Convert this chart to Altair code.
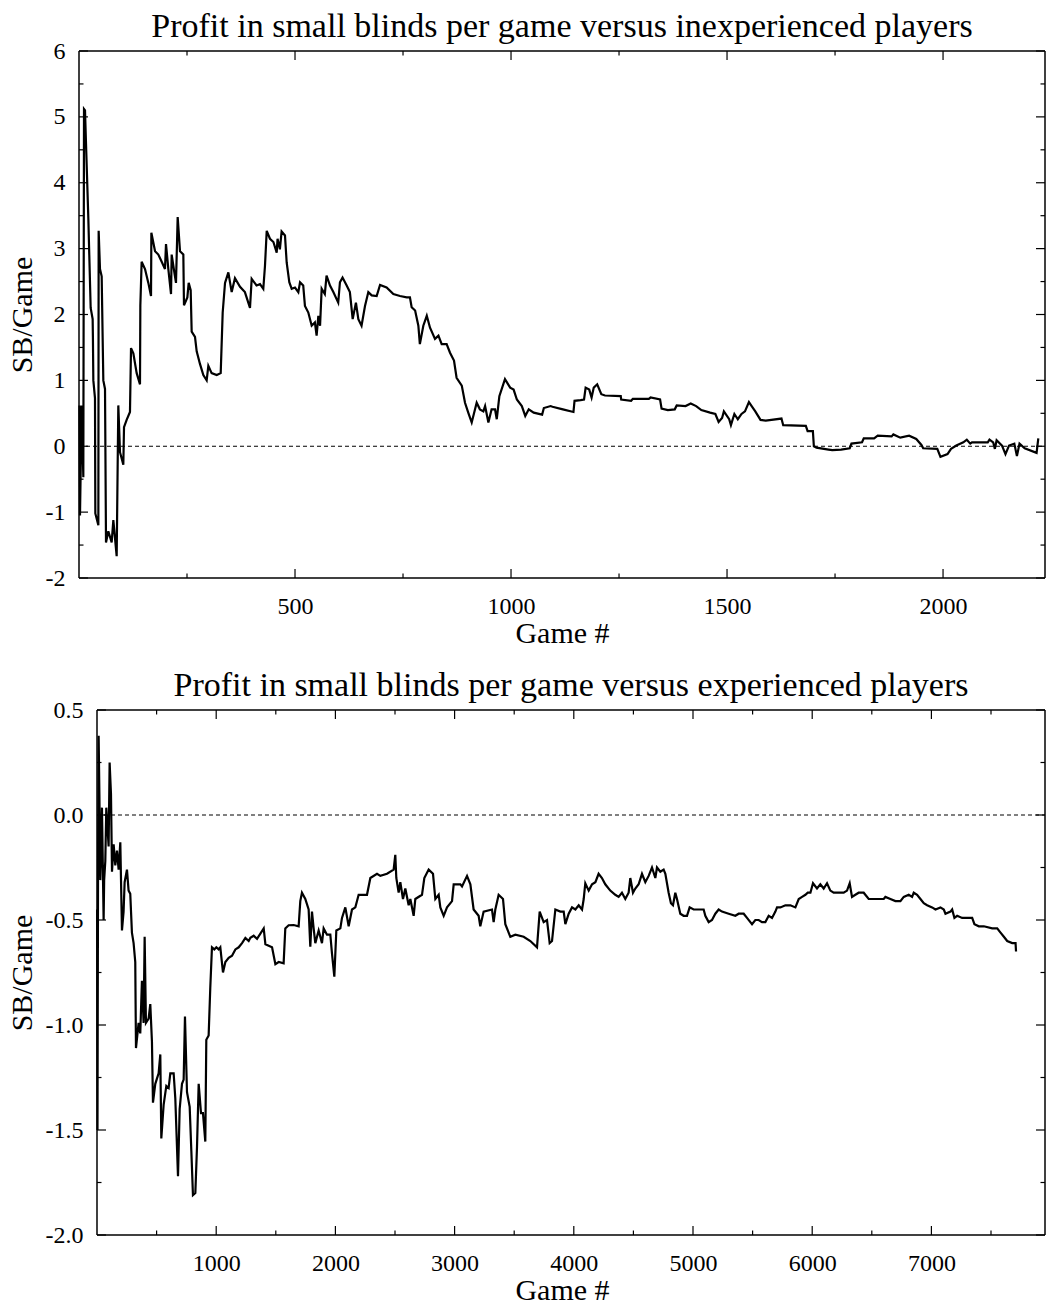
import altair as alt
import pandas as pd

# ---- Series: running profit (small blinds per game) vs. game number ----
inexp_game = [1, 2.3, 6.2, 10, 11.6, 13.9, 16.2, 21.6, 27, 31.6, 32.2, 33.2, 37, 37.8, 44.8, 45.5,
              48.6, 52.5, 56.3, 60.2, 62.5, 67.9, 75.6, 79.5, 87.2, 91, 94.9, 102.6, 104.2, 110.3,
              118, 120.4, 125.8, 133.5, 141.2, 142, 145, 152.8, 160.5, 166.7, 167.5, 176, 183.6,
              191.4, 199, 201.4, 206.8, 213, 214.5, 220.7, 224.5, 228.4, 233.8, 241.5, 243, 250.8,
              253.9, 258.5, 260.8, 268.5, 272.4, 280, 287.8, 295.5, 299.4, 307, 318.7, 328, 332.6,
              338, 345.7, 353.4, 361, 372.7, 384, 395.8, 399.7, 411, 419, 426.6, 430.5, 434.5, 442,
              450, 457.6, 459.6, 465, 469, 476.8, 480.7, 486.8, 492.3, 500, 507.7, 511.6, 519, 523,
              530.8, 538.6, 546, 550, 554, 558, 561.7, 569, 573, 581, 588.7, 600, 604, 610, 619.6,
              627, 633.5, 641, 646.6, 654, 662, 669.7, 677.5, 689, 696.8, 712, 727.6, 743, 758.5,
              766, 770, 778, 785.5, 789, 797, 805, 812.5, 824, 832, 839.5, 851, 858.8, 868, 874,
              886, 893.5, 901, 909, 920.5, 928, 936, 940, 947.6, 955, 963, 967, 973, 986, 998,
              1006, 1013.5, 1025, 1033, 1041, 1052.5, 1072, 1076, 1091.6, 1096, 1120, 1144.5, 1147,
              1161, 1169, 1172.7, 1181, 1186.5, 1191.5, 1199.5, 1209, 1217.5, 1254, 1255, 1278,
              1282, 1319, 1323, 1345, 1348.5, 1363, 1379, 1383.5, 1404, 1416, 1428.5, 1440.5,
              1460.8, 1473, 1480.5, 1488.5, 1492.7, 1505, 1509, 1517, 1525, 1533.5, 1541.5, 1550.7,
              1557, 1565.4, 1577.5, 1589.6, 1626, 1630, 1682.4, 1686.5, 1698.7, 1701, 1707, 1735,
              1743.6, 1764, 1784, 1788, 1812.5, 1816.5, 1840.5, 1848.7, 1881, 1885, 1901, 1921.5,
              1938, 1950, 1954, 1986.7, 1994, 2010.4, 2018.5, 2030.7, 2047, 2055, 2063, 2067,
              2103.5, 2107.5, 2116, 2120, 2124, 2136.5, 2144.5, 2152.7, 2165, 2171, 2177, 2189,
              2216.5, 2220.5]
inexp_sb = [0.62, -1.05, 0.62, -0.47, 5.12, 5.10, 4.6, 3.46, 2.10, 1.93, 1.66, 1.0, 0.73, -1.02, -1.2,
            3.27, 2.69, 2.58, 1.0, 0.87, -1.46, -1.29, -1.46, -1.12, -1.67, 0.62, -0.09, -0.28, 0.29,
            0.40, 0.52, 1.49, 1.41, 1.11, 0.94, 2.14, 2.80, 2.69, 2.48, 2.28, 3.24, 2.96, 2.91, 2.80,
            2.69, 3.07, 2.69, 2.31, 2.91, 2.64, 2.48, 3.48, 2.96, 2.91, 2.14, 2.26, 2.48, 2.37, 1.74,
            1.66, 1.44, 1.25, 1.08, 1.00, 1.22, 1.11, 1.08, 1.11, 2.03, 2.48, 2.64, 2.34, 2.55, 2.42,
            2.34, 2.10, 2.54, 2.44, 2.46, 2.39, 2.74, 3.27, 3.15, 3.10, 2.94, 3.15, 2.99, 3.26, 3.20,
            2.79, 2.49, 2.39, 2.41, 2.34, 2.49, 2.44, 2.13, 2.03, 1.83, 1.88, 1.68, 1.98, 1.83, 2.39,
            2.31, 2.59, 2.44, 2.34, 2.18, 2.49, 2.56, 2.44, 2.34, 1.93, 2.18, 1.93, 1.83, 2.13, 2.34,
            2.29, 2.28, 2.45, 2.41, 2.31, 2.28, 2.26, 2.26, 2.11, 2.06, 1.83, 1.55, 1.83, 1.98, 1.80,
            1.63, 1.68, 1.55, 1.55, 1.42, 1.30, 1.04, 0.92, 0.66, 0.51, 0.36, 0.66, 0.56, 0.53, 0.61,
            0.36, 0.56, 0.56, 0.41, 0.76, 1.02, 0.89, 0.86, 0.71, 0.61, 0.46, 0.56, 0.51, 0.48, 0.58,
            0.61, 0.60, 0.56, 0.52, 0.69, 0.70, 0.71, 0.89, 0.86, 0.74, 0.89, 0.94, 0.79, 0.77, 0.76,
            0.71, 0.69, 0.72, 0.72, 0.74, 0.71, 0.57, 0.55, 0.56, 0.62, 0.61, 0.65, 0.61, 0.55, 0.51,
            0.49, 0.37, 0.43, 0.53, 0.41, 0.32, 0.49, 0.41, 0.49, 0.53, 0.67, 0.61, 0.53, 0.40, 0.39,
            0.42, 0.32, 0.31, 0.23, 0.23, 0.0, -0.02, -0.05, -0.06, -0.05, -0.03, 0.04, 0.06, 0.12,
            0.12, 0.16, 0.15, 0.18, 0.13, 0.16, 0.11, 0.02, -0.03, -0.04, -0.16, -0.12, -0.04, 0.01,
            0.06, 0.10, 0.04, 0.06, 0.06, 0.10, 0.06, -0.04, 0.09, 0.01, -0.12, 0.01, 0.04, -0.15,
            0.04, -0.03, -0.10, 0.12]

exp_game = [1, 4, 9, 13.7, 20, 27.7, 41.6, 55.6, 60, 69.6, 78, 83.6, 97.5, 105.9, 117.3, 125.8,
            139.6, 153.5, 167.5, 181.5, 195.5, 209.4, 223, 231.8, 251.4, 265, 279, 293, 307, 321,
            327, 349, 363, 377, 391, 399.7, 410.8, 433, 447, 461, 469.5, 489, 517, 531, 539.5, 559,
            581.6, 601, 615, 643, 657, 679.5, 693.5, 713, 727, 738, 755, 777.5, 791.5, 805, 825,
            839, 853, 872.5, 889, 908.6, 917, 936.6, 950.5, 964.5, 984, 1001, 1020.6, 1034.5, 1057,
            1076.8, 1104.8, 1132.8, 1160.8, 1188.7, 1216.7, 1244.7, 1272.7, 1286.7, 1314.7, 1342.6,
            1370.6, 1398.6, 1412.6, 1468.5, 1496.5, 1524.5, 1565.6, 1579.7, 1607.7, 1649.7, 1691.6,
            1705.5, 1719.5, 1747.5, 1775.5, 1789.5, 1803.5, 1817.5, 1831.5, 1859.5, 1887.4, 1901.4,
            1929.4, 1957.4, 1971.4, 1991, 2007.8, 2041.4, 2055.3, 2083.3, 2111.3, 2139.3, 2167.3,
            2195, 2265, 2293.2, 2349, 2377, 2433, 2488.5, 2502.5, 2511, 2530.6, 2544.6, 2567,
            2586.6, 2614.6, 2628.6, 2656.5, 2670.5, 2726.5, 2746, 2782.4, 2818.8, 2838.4, 2866.4,
            2880.4, 2908.4, 2936.4, 2978.4, 2992.3, 3048.3, 3062.3, 3104.3, 3132.3, 3159.6, 3201.6,
            3215.6, 3243.6, 3313.6, 3327.6, 3341.6, 3369.5, 3406, 3425.5, 3467.4, 3509.4, 3579.3,
            3635.3, 3691.3, 3713.7, 3747.2, 3775.2, 3797.6, 3817.2, 3845.2, 3887.2, 3915.2, 3929.2,
            3957.1, 3985.1, 4013.1, 4041.1, 4069.1, 4083.1, 4096.5, 4125, 4153, 4181, 4208.2, 4236,
            4264, 4306, 4348, 4376, 4404, 4432, 4460, 4474, 4496.5, 4516, 4544, 4572, 4600, 4628,
            4656, 4684, 4697.8, 4726, 4753.7, 4768, 4795.6, 4815, 4832, 4851.6, 4865.6, 4893.5,
            4921.5, 4949.5, 4972, 5005.5, 5061.4, 5089.4, 5103.4, 5131.4, 5159.4, 5187.3, 5215.3,
            5243.3, 5299.3, 5355.2, 5383.2, 5425.2, 5453.1, 5481.1, 5495.1, 5523, 5551, 5579, 5607,
            5635, 5663, 5691, 5705, 5733, 5775, 5817, 5859, 5887, 5915, 5943, 5962.7, 5985, 6006.7,
            6040.3, 6068.3, 6096.3, 6124.3, 6152.3, 6180.2, 6222.2, 6264.2, 6292.2, 6314.5, 6334,
            6362, 6390, 6432, 6474, 6516, 6600, 6614, 6656, 6698, 6740, 6768, 6810, 6838, 6852,
            6880, 6908, 6936, 6964, 7006, 7034, 7076, 7104, 7118, 7160, 7174, 7193, 7216, 7258,
            7342, 7361, 7398, 7440, 7510, 7552, 7580, 7608, 7636, 7678, 7706, 7710]
exp_sb = [-0.45, -1.5, -0.2, 0.377, 0.1, -0.31, 0.035, -0.50, -0.31, -0.22, 0.035, -0.016, -0.15,
          0.25, 0.10, -0.27, -0.14, -0.24, -0.17, -0.26, -0.13, -0.55, -0.46, -0.32, -0.26, -0.36,
          -0.375, -0.56, -0.61, -0.70, -1.11, -0.99, -1.04, -0.79, -0.99, -0.58, -0.99, -0.97, -0.90,
          -1.08, -1.37, -1.28, -1.23, -1.14, -1.54, -1.38, -1.29, -1.30, -1.23, -1.23, -1.35, -1.72,
          -1.40, -1.28, -1.26, -0.96, -1.32, -1.39, -1.60, -1.81, -1.80, -1.58, -1.28, -1.42, -1.42,
          -1.555, -1.07, -1.05, -0.82, -0.63, -0.64, -0.63, -0.64, -0.63, -0.75, -0.70, -0.68, -0.67,
          -0.64, -0.63, -0.61, -0.585, -0.60, -0.585, -0.575, -0.59, -0.565, -0.54, -0.615, -0.63,
          -0.71, -0.70, -0.706, -0.54, -0.525, -0.524, -0.53, -0.41, -0.37, -0.40, -0.45, -0.627,
          -0.46, -0.54, -0.61, -0.55, -0.61, -0.54, -0.57, -0.57, -0.66, -0.77, -0.55, -0.54, -0.49,
          -0.44, -0.53, -0.45, -0.44, -0.38, -0.38, -0.30, -0.28, -0.29, -0.28, -0.26, -0.19, -0.30,
          -0.37, -0.32, -0.40, -0.35, -0.43, -0.40, -0.48, -0.40, -0.38, -0.30, -0.26, -0.28, -0.40,
          -0.38, -0.44, -0.48, -0.44, -0.41, -0.33, -0.33, -0.34, -0.29, -0.33, -0.45, -0.48, -0.53,
          -0.46, -0.45, -0.51, -0.45, -0.38, -0.40, -0.52, -0.58, -0.57, -0.58, -0.60, -0.63, -0.46,
          -0.51, -0.50, -0.61, -0.60, -0.45, -0.46, -0.46, -0.52, -0.47, -0.44, -0.45, -0.43, -0.45,
          -0.40, -0.325, -0.36, -0.33, -0.32, -0.28, -0.30, -0.33, -0.36, -0.38, -0.39, -0.37, -0.40,
          -0.37, -0.30, -0.37, -0.35, -0.33, -0.28, -0.32, -0.29, -0.25, -0.30, -0.25, -0.27, -0.26,
          -0.28, -0.37, -0.42, -0.43, -0.37, -0.40, -0.47, -0.48, -0.48, -0.44, -0.45, -0.45, -0.45,
          -0.48, -0.51, -0.50, -0.47, -0.45, -0.46, -0.47, -0.48, -0.47, -0.47, -0.49, -0.51, -0.52,
          -0.50, -0.50, -0.51, -0.51, -0.48, -0.49, -0.46, -0.44, -0.44, -0.43, -0.43, -0.44, -0.40,
          -0.39, -0.38, -0.37, -0.37, -0.325, -0.35, -0.33, -0.35, -0.325, -0.36, -0.37, -0.37,
          -0.37, -0.36, -0.325, -0.39, -0.38, -0.37, -0.37, -0.40, -0.40, -0.40, -0.39, -0.40,
          -0.41, -0.41, -0.39, -0.38, -0.39, -0.37, -0.38, -0.40, -0.42, -0.43, -0.44, -0.45, -0.44,
          -0.45, -0.47, -0.46, -0.45, -0.49, -0.48, -0.49, -0.49, -0.52, -0.53, -0.53, -0.54, -0.54,
          -0.56, -0.58, -0.60, -0.61, -0.61, -0.65]

# ---- Axis ticks ----
inexp_x_major = [500, 1000, 1500, 2000]
inexp_x_minor = [250, 750, 1250, 1750]
inexp_y_major = [-2, -1, 0, 1, 2, 3, 4, 5, 6]
inexp_y_minor = [-1.5, -0.5, 0.5, 1.5, 2.5, 3.5, 4.5, 5.5]

exp_x_major = [1000, 2000, 3000, 4000, 5000, 6000, 7000]
exp_x_minor = [500, 1500, 2500, 3500, 4500, 5500, 6500, 7500]
exp_y_major = [-2.0, -1.5, -1.0, -0.5, 0.0, 0.5]
exp_y_minor = [-1.75, -1.25, -0.75, -0.25, 0.25]

FONT = "Liberation Serif"
MAJOR = 9
MINOR = 4.5
FRAME = 1.5
W = 966  # both panels share the same layout width


def panel(title, game, sb, x_dom, y_dom, h, xmaj, xmin, ymaj, ymin, ydec):
    """x_dom[0] may be negative: the frame starts at game 0, the room left of it
    holds the wider tick labels of this panel."""
    w = W
    xs = alt.Scale(domain=x_dom, nice=False, zero=False)
    ys = alt.Scale(domain=y_dom, nice=False, zero=False)
    frame_left = -x_dom[0] * w / (x_dom[1] - x_dom[0])

    fmt = ".1f" if ydec else "d"
    ylab = ("datum.value < 0 ? '-' + format(-datum.value, '%s') : format(datum.value, '%s')"
            % (fmt, fmt))
    # one shared axis definition per channel, reused by every layer
    x_axis = alt.Axis(title="Game #", values=xmaj, labelExpr="datum.value")
    y_axis = alt.Axis(title="SB/Game", values=ymaj, labelExpr=ylab, offset=-frame_left)

    series = pd.DataFrame({"game": game, "sb": sb})
    line = alt.Chart(series).mark_line(color="black", strokeWidth=2.2).encode(
        x=alt.X("game:Q", scale=xs, axis=x_axis, title="Game #"),
        y=alt.Y("sb:Q", scale=ys, axis=y_axis, title="SB/Game"),
    )

    zero = alt.Chart(pd.DataFrame({"z": [0]})).mark_rule(
        color="black", strokeWidth=1, strokeDash=[4, 3]
    ).encode(
        y=alt.Y("z:Q", scale=ys, axis=y_axis, title="SB/Game"),
        x=alt.datum(0), x2=alt.value(w),
    )

    # plot frame: starts at game 0
    base = alt.Chart(pd.DataFrame({"z": [0]}))
    frame = [
        base.mark_rule(color="black", strokeWidth=FRAME).encode(
            x=alt.datum(0), y=alt.value(0), y2=alt.value(h)),
        base.mark_rule(color="black", strokeWidth=FRAME).encode(
            x=alt.value(w), y=alt.value(0), y2=alt.value(h)),
        base.mark_rule(color="black", strokeWidth=FRAME).encode(
            x=alt.datum(0), x2=alt.value(w), y=alt.value(0)),
        base.mark_rule(color="black", strokeWidth=FRAME).encode(
            x=alt.datum(0), x2=alt.value(w), y=alt.value(h)),
    ]

    def xticks(vals, length):
        d = alt.Chart(pd.DataFrame({"t": vals}))
        enc = dict(x=alt.X("t:Q", scale=xs, axis=x_axis, title="Game #"))
        return [
            d.mark_rule(color="black", strokeWidth=1.2).encode(
                y=alt.value(h), y2=alt.value(h - length), **enc),
            d.mark_rule(color="black", strokeWidth=1.2).encode(
                y=alt.value(0), y2=alt.value(length), **enc),
        ]

    def yticks(vals, length):
        d = alt.Chart(pd.DataFrame({"t": vals}))
        enc = dict(y=alt.Y("t:Q", scale=ys, axis=y_axis, title="SB/Game"))
        return [
            d.mark_rule(color="black", strokeWidth=1.2, x2Offset=length).encode(
                x=alt.datum(0), x2=alt.datum(0), **enc),
            d.mark_rule(color="black", strokeWidth=1.2).encode(
                x=alt.value(w), x2=alt.value(w - length), **enc),
        ]

    layers = [zero, line]
    layers += xticks(xmaj, MAJOR) + xticks(xmin, MINOR)
    layers += yticks(ymaj, MAJOR) + yticks(ymin, MINOR)
    layers += frame

    return alt.layer(*layers).properties(
        width=w,
        height=h,
        title=alt.TitleParams(
            text=title, font=FONT, fontSize=34, fontWeight="normal", color="black",
            anchor="middle", frame="group", offset=-4.5, dx=frame_left / 2,
        ),
    )


top = panel("Profit in small blinds per game versus inexperienced players",
            inexp_game, inexp_sb, [0, 2236], [-2, 6], 527,
            inexp_x_major, inexp_x_minor, inexp_y_major, inexp_y_minor, False)

bottom = panel("Profit in small blinds per game versus experienced players",
               exp_game, exp_sb, [-151, 7953], [-2, 0.5], 525,
               exp_x_major, exp_x_minor, exp_y_major, exp_y_minor, True)

chart = alt.vconcat(top, bottom, spacing=20).properties(
    padding={"left": 7, "top": 9, "right": 0, "bottom": 0},
    background="white",
).configure_view(
    stroke=None
).configure_axis(
    labelFont=FONT, labelFontSize=24, labelColor="black",
    titleFont=FONT, titleFontSize=30, titleFontWeight="normal", titleColor="black",
    ticks=False, tickSize=0, domain=False, grid=False,
).configure_axisX(
    labelPadding=16, titlePadding=0,
).configure_axisY(
    labelPadding=14, titlePadding=8,
)

chart.save("out.html", embed_options={"renderer": "svg", "actions": False})
